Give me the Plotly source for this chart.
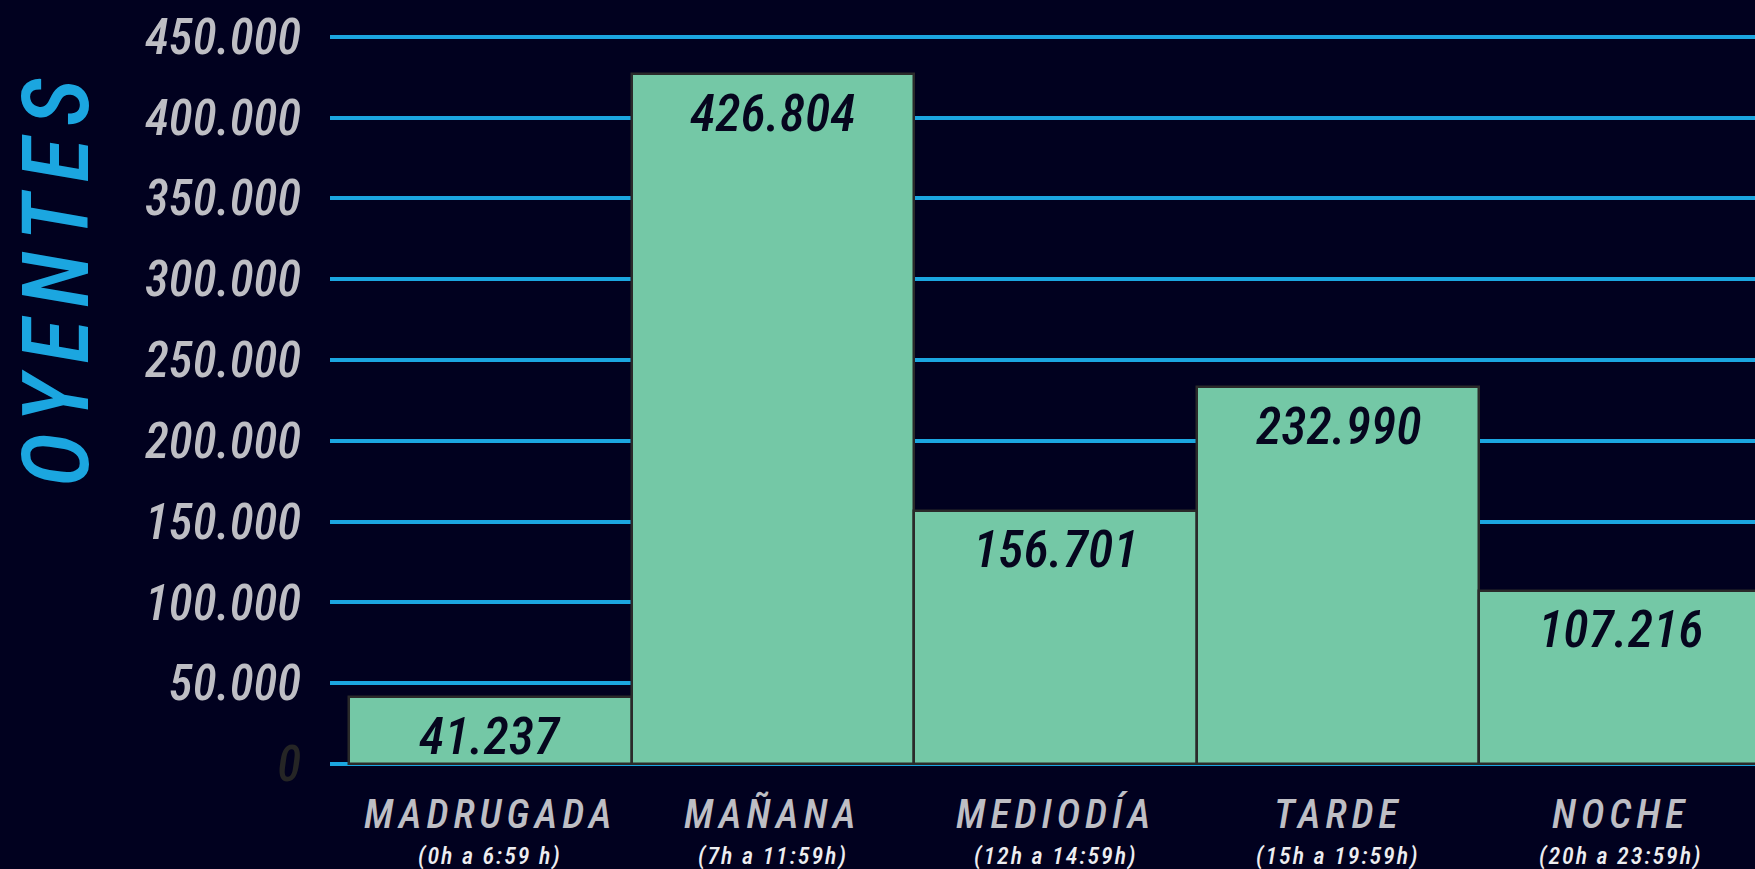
import plotly.graph_objects as go

categories = ["MADRUGADA", "MAÑANA", "MEDIODÍA", "TARDE", "NOCHE"]
subtitles = ["(0h a 6:59 h)", "(7h a 11:59h)", "(12h a 14:59h)", "(15h a 19:59h)", "(20h a 23:59h)"]
listeners = [41237, 426804, 156701, 232990, 107216]
tick_vals = [0, 50000, 100000, 150000, 200000, 250000, 300000, 350000, 400000, 450000]
axis_title = "OYENTES"

BG = "#01011F"
BLUE = "#1BA6E0"
GREEN = "#74C8A6"
GREY = "#BEBEC4"
DARK = "#06061E"
FONT = "Roboto Condensed, DejaVu Sans Condensed, Roboto, sans-serif"


def fmt(v):
    return f"{v:,}".replace(",", ".")


tick_text = []
for v in tick_vals:
    if v == 0:
        tick_text.append("<span style='color:#252525'>0</span>")
    else:
        tick_text.append(fmt(v))

x_idx = list(range(len(categories)))

fig = go.Figure()
fig.add_trace(go.Bar(
    x=x_idx,
    y=listeners,
    width=1,
    marker=dict(color=GREEN, line=dict(color="#2A2A2A", width=2.5)),
    hoverinfo="skip",
))

annotations = []
for i, v in zip(x_idx, listeners):
    annotations.append(dict(
        x=i, y=v, xref="x", yref="y", text=fmt(v), showarrow=False,
        yanchor="middle", yshift=-39,
        font=dict(family=FONT, size=52, color=DARK, style="italic", weight=500),
    ))
for i, c, s in zip(x_idx, categories, subtitles):
    annotations.append(dict(
        x=i, y=0, xref="x", yref="paper", showarrow=False,
        text=f"<span style='letter-spacing:5px'>{c}</span>",
        yanchor="middle", yshift=-34,
        font=dict(family=FONT, size=40, color=GREY, style="italic", weight=500),
    ))
    annotations.append(dict(
        x=i, y=0, xref="x", yref="paper", showarrow=False,
        text=f"<span style='letter-spacing:2px'>{s}</span>",
        yanchor="middle", yshift=-76,
        font=dict(family=FONT, size=24, color="#EDEDF0", style="italic", weight=500),
    ))
annotations.append(dict(
    x=-0.1923, y=0.6618, xref="paper", yref="paper", showarrow=False,
    text=f"<span style='letter-spacing:12px'>{axis_title}</span>",
    textangle=-90, xanchor="center", yanchor="middle",
    font=dict(family=FONT, size=92, color=BLUE, style="italic", weight=500),
))

fig.update_layout(
    width=1755, height=869,
    paper_bgcolor=BG, plot_bgcolor=BG,
    margin=dict(l=330, r=0, t=20, b=89),
    showlegend=False,
    bargap=0,
    annotations=annotations,
    xaxis=dict(
        range=[-0.567, 4.475], showgrid=False, zeroline=False,
        showticklabels=False, ticks="", showline=False, fixedrange=True,
    ),
    yaxis=dict(
        range=[-9900, 460333], tickvals=tick_vals, ticktext=tick_text,
        showgrid=True, gridcolor=BLUE, gridwidth=4,
        zeroline=False, showline=False, ticks="",
        ticklabelstandoff=28,
        tickfont=dict(family=FONT, size=49, color=GREY, style="italic", weight=500),
        fixedrange=True,
    ),
)

fig.write_html(
    "out.html",
    config={"displayModeBar": False},
    post_script="document.body.style.margin='0';document.body.style.background='#01011F';",
)
